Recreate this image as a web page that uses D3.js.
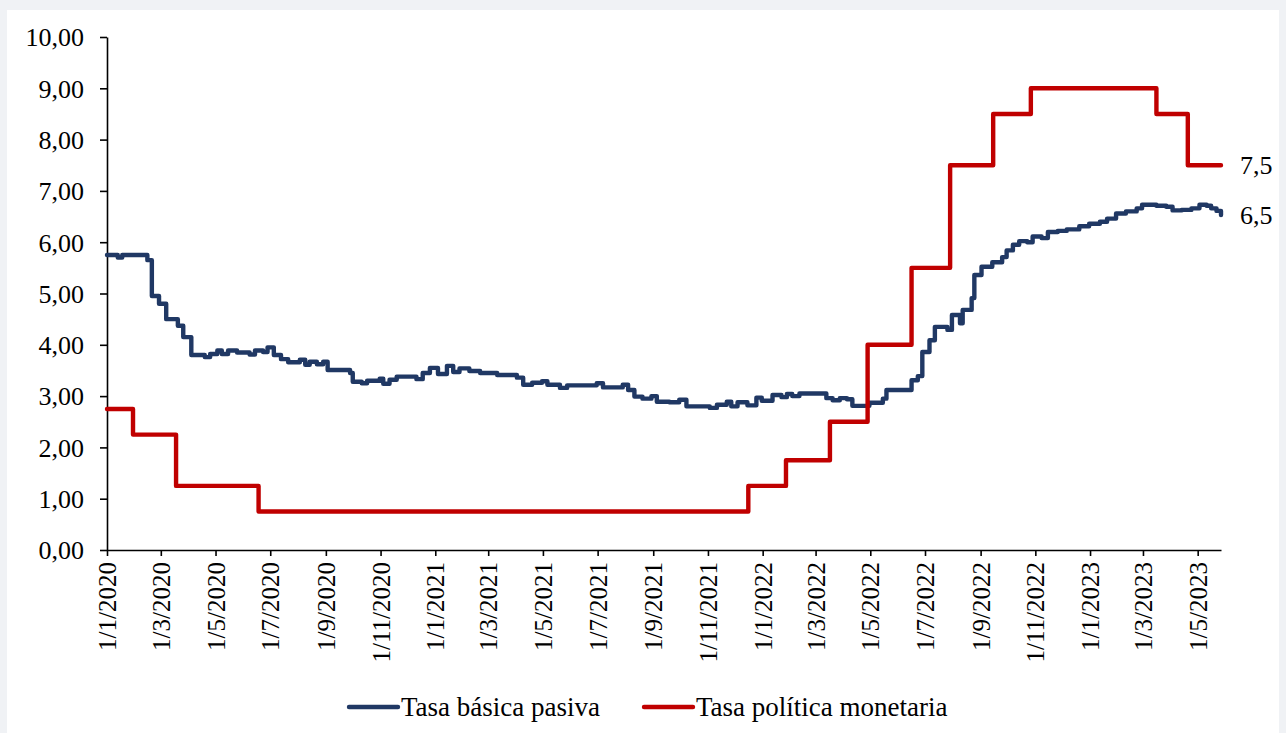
<!DOCTYPE html>
<html>
<head>
<meta charset="utf-8">
<script src="https://cdn.jsdelivr.net/npm/d3@7"></script>
<style>
  html, body { margin: 0; padding: 0; background: #f0f2f5; }
  svg { display: block; }
  text { font-family: "Liberation Serif", "Times New Roman", serif; fill: #000; }
</style>
</head>
<body>
<svg id="chart" width="1286" height="733"></svg>
<script>
// Tasa básica pasiva: dates where the rate changes and the new value (%)
const tbpDates = [
  "2020-01-01","2020-01-13","2020-01-18","2020-02-15","2020-02-20","2020-02-28","2020-03-07","2020-03-20",
  "2020-03-26","2020-04-04","2020-04-19","2020-04-25","2020-05-03","2020-05-08","2020-05-15","2020-05-25",
  "2020-06-08","2020-06-14","2020-06-23","2020-06-28","2020-07-05","2020-07-13","2020-07-21","2020-08-03",
  "2020-08-09","2020-08-14","2020-08-22","2020-08-29","2020-09-03","2020-09-28","2020-10-01","2020-10-11",
  "2020-10-17","2020-10-31","2020-11-04","2020-11-11","2020-11-19","2020-12-11","2020-12-18","2020-12-26",
  "2021-01-04","2021-01-14","2021-01-21","2021-01-28","2021-02-08","2021-02-20","2021-03-11","2021-04-02",
  "2021-04-09","2021-04-19","2021-04-30","2021-05-06","2021-05-20","2021-05-28","2021-06-30","2021-07-07",
  "2021-07-29","2021-08-04","2021-08-11","2021-08-20","2021-08-30","2021-09-05","2021-09-19","2021-09-30",
  "2021-10-08","2021-11-03","2021-11-11","2021-11-22","2021-11-27","2021-12-04","2021-12-15","2021-12-25",
  "2021-12-31","2022-01-12","2022-01-22","2022-01-28","2022-02-03","2022-02-11","2022-03-13","2022-03-20",
  "2022-03-28","2022-04-05","2022-04-11","2022-04-30","2022-05-15","2022-05-19","2022-06-16","2022-06-23",
  "2022-06-28","2022-07-06","2022-07-12","2022-07-26","2022-07-31","2022-08-09","2022-08-12","2022-08-22",
  "2022-08-25","2022-09-02","2022-09-14","2022-09-25","2022-09-30","2022-10-07","2022-10-14","2022-10-23",
  "2022-10-29","2022-11-08","2022-11-15","2022-11-26","2022-12-06","2022-12-20","2022-12-31","2023-01-12",
  "2023-01-20","2023-01-30","2023-02-10","2023-02-22","2023-02-28","2023-03-16","2023-03-27","2023-04-03",
  "2023-04-13","2023-04-24","2023-05-03","2023-05-11","2023-05-16","2023-05-22","2023-05-27"
];
const tbpValues = [
  5.75,5.70,5.75,5.65,4.95,4.80,4.50,4.37,
  4.15,3.80,3.76,3.82,3.89,3.82,3.89,3.85,
  3.81,3.89,3.86,3.95,3.80,3.72,3.66,3.71,
  3.61,3.67,3.62,3.67,3.51,3.45,3.28,3.25,
  3.30,3.34,3.24,3.32,3.38,3.33,3.45,3.55,
  3.43,3.59,3.47,3.54,3.49,3.45,3.41,3.36,
  3.22,3.26,3.29,3.22,3.16,3.21,3.25,3.17,
  3.22,3.12,2.99,2.95,3.00,2.89,2.88,2.93,
  2.80,2.77,2.83,2.89,2.80,2.88,2.82,2.97,
  2.91,3.02,2.98,3.04,3.00,3.05,2.96,2.92,
  2.96,2.94,2.81,2.87,2.95,3.12,3.31,3.39,
  3.86,4.09,4.35,4.29,4.58,4.42,4.68,4.91,
  5.36,5.52,5.61,5.71,5.84,5.95,6.02,6.00,
  6.11,6.08,6.20,6.22,6.25,6.31,6.36,6.40,
  6.46,6.56,6.60,6.66,6.73,6.71,6.69,6.62,
  6.63,6.66,6.73,6.71,6.66,6.61,6.53
];

// Tasa de política monetaria: decision dates and the rate in force (%)
const tpmDates = [
  "2020-01-01","2020-01-30","2020-03-18","2020-06-18","2021-12-16","2022-01-27","2022-03-17",
  "2022-04-28","2022-06-16","2022-07-29","2022-09-15","2022-10-27","2023-03-16","2023-04-20","2023-05-27"
];
const tpmValues = [2.75,2.25,1.25,0.75,1.25,1.75,2.50,4.00,5.50,7.50,8.50,9.00,8.50,7.50,7.50];

const yTickValues = [0,1,2,3,4,5,6,7,8,9,10];
const seriesNames = ["Tasa básica pasiva", "Tasa política monetaria"];
const seriesColors = ["#203864", "#c00000"];

const parse = d3.utcParse("%Y-%m-%d");
const tbp = tbpDates.map((d, i) => ({ date: parse(d), value: tbpValues[i] }));
const tpm = tpmDates.map((d, i) => ({ date: parse(d), value: tpmValues[i] }));

const es = d3.formatLocale({ decimal: ",", thousands: ".", grouping: [3], currency: ["", ""] });
const fmt2 = es.format(".2f");
const fmt1 = es.format(".1f");
const dateFmt = d3.utcFormat("%-d/%-m/%Y");

const svg = d3.select("#chart");

// white chart panel on the light grey page
svg.append("rect").attr("x", 7).attr("y", 10).attr("width", 1272).attr("height", 723).attr("fill", "#ffffff");

const x = d3.scaleUtc()
  .domain([parse("2020-01-01"), parse("2023-05-27")])
  .range([107, 1221]);
const y = d3.scaleLinear().domain([0, 10]).range([550, 37]);

// y axis
const yAxis = svg.append("g")
  .attr("transform", `translate(${x.range()[0]},0)`)
  .call(d3.axisLeft(y).tickValues(yTickValues).tickFormat(fmt2).tickSize(7).tickPadding(16).tickSizeOuter(0));
yAxis.selectAll("text").style("font-size", "26px").attr("dy", "0.34em");

// x axis
const xTicks = d3.utcMonth.every(2).range(parse("2020-01-01"), parse("2023-05-27"));
const xAxis = svg.append("g")
  .attr("transform", `translate(0,${y(0)})`)
  .call(d3.axisBottom(x).tickValues(xTicks).tickFormat(dateFmt).tickSize(6).tickSizeOuter(0));
xAxis.selectAll("text")
  .style("font-size", "25px")
  .attr("text-anchor", "end")
  .attr("transform", "rotate(-90)")
  .attr("x", -12)
  .attr("y", 0)
  .attr("dy", "0.34em");

svg.selectAll(".domain, .tick line").attr("stroke", "#000").attr("stroke-width", 1.6);
svg.selectAll(".tick text").attr("fill", "#000").style("font-family", "'Liberation Serif', 'Times New Roman', serif");

// series lines
const stepLine = d3.line()
  .x(d => x(d.date))
  .y(d => y(d.value))
  .curve(d3.curveStepAfter);

[tbp, tpm].forEach((data, i) => {
  svg.append("path")
    .datum(data)
    .attr("fill", "none")
    .attr("stroke", seriesColors[i])
    .attr("stroke-width", 4.4)
    .attr("stroke-linejoin", "round")
    .attr("stroke-linecap", "round")
    .attr("d", stepLine);
});

// end-of-series value labels
[tpm, tbp].forEach(data => {
  const last = data[data.length - 1];
  svg.append("text")
    .attr("x", x(last.date) + 19)
    .attr("y", y(last.value))
    .attr("dy", "0.34em")
    .style("font-size", "26px")
    .text(fmt1(last.value));
});

// legend
const legend = svg.append("g").attr("transform", "translate(0,707)");
const legendX = [349, 644];
seriesNames.forEach((name, i) => {
  legend.append("line")
    .attr("x1", legendX[i]).attr("x2", legendX[i] + 49)
    .attr("y1", 0).attr("y2", 0)
    .attr("stroke", seriesColors[i]).attr("stroke-width", 4.4)
    .attr("stroke-linecap", "round");
  legend.append("text")
    .attr("x", legendX[i] + 52)
    .attr("y", 0)
    .attr("dy", "0.34em")
    .style("font-size", "27px")
    .text(name);
});
</script>
</body>
</html>
